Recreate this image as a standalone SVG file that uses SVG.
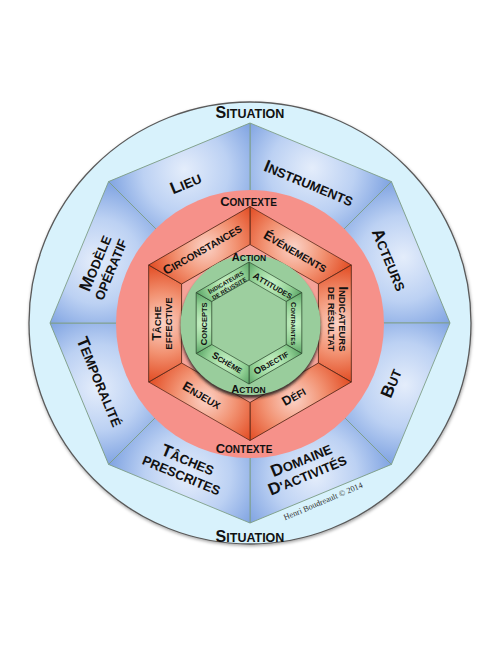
<svg xmlns="http://www.w3.org/2000/svg" width="500" height="647" viewBox="0 0 500 647">
<defs>
  <radialGradient id="gBlue" gradientUnits="userSpaceOnUse" cx="62" cy="-150" r="95" fx="62" fy="-155">
    <stop offset="0" stop-color="#e4edfb"/>
    <stop offset="0.45" stop-color="#bcd1f3"/>
    <stop offset="1" stop-color="#6690da"/>
  </radialGradient>
  <radialGradient id="gRed" gradientUnits="userSpaceOnUse" cx="44" cy="-76" r="60">
    <stop offset="0" stop-color="#fbd2c6"/>
    <stop offset="0.5" stop-color="#f29272"/>
    <stop offset="1" stop-color="#e24b22"/>
  </radialGradient>
  <radialGradient id="gGreen" gradientUnits="userSpaceOnUse" cx="23" cy="-40" r="34">
    <stop offset="0" stop-color="#c8f2c6"/>
    <stop offset="0.55" stop-color="#92d195"/>
    <stop offset="1" stop-color="#4c985a"/>
  </radialGradient>
  <filter id="shOuter" x="-10%" y="-10%" width="120%" height="120%">
    <feDropShadow dx="0.5" dy="1.5" stdDeviation="1.5" flood-color="#000" flood-opacity="0.35"/>
  </filter>
  <filter id="blur" x="-20%" y="-20%" width="140%" height="140%">
    <feGaussianBlur stdDeviation="1.6"/>
  </filter>
  <polygon id="segB" points="0,-200 141.42,-141.42 88.39,-88.39 0,-125"/>
  <polygon id="segR" points="0,-117 101.32,-58.5 68.42,-39.5 0,-79"/>
  <polygon id="segG" points="0,-61 52.83,-30.5 37.24,-21.5 0,-43"/>
</defs>
<style>
  .lbl { font-family: "Liberation Sans", Arial, sans-serif; font-weight: bold; fill: #111; text-anchor: middle; }
  .o { font-size: 13px; } .o .c { font-size: 17px; }
  .s { font-size: 12.5px; } .s .c { font-size: 16px; }
  .m { font-size: 10px; } .m .c { font-size: 13px; }
  .m2 { font-size: 9.5px; } .m2 .c { font-size: 12.5px; }
  .a { font-size: 8.5px; } .a .c { font-size: 11px; }
  .i { font-size: 7.5px; } .i .c { font-size: 9.5px; }
  .t { font-size: 5.8px; } .t .c { font-size: 7.5px; }
  .sb { fill: url(#gBlue); stroke: #7f9f88; stroke-width: 0.9; }
  .sr { fill: url(#gRed); stroke: #5a2a1a; stroke-width: 0.8; }
  .sg { fill: url(#gGreen); stroke: #2f4a30; stroke-width: 0.7; }
  .copy { font-family: "Liberation Serif", "Times New Roman", serif; font-size: 8.3px; fill: #333; text-anchor: middle; }
</style>

<g id="situation">
  <circle cx="250" cy="323" r="221" fill="#d8f2fc" stroke="#5a5a5a" stroke-width="1.3" filter="url(#shOuter)"/>
  <text class="lbl s" x="250" y="118"><tspan class="c">S</tspan>ITUATION</text>
  <text class="lbl s" x="250" y="541.5"><tspan class="c">S</tspan>ITUATION</text>
</g>

<g id="instruments">
  <use href="#segB" class="sb" transform="translate(250,323) rotate(0)"/>
  <text class="lbl o" transform="translate(308.5,184) rotate(22.5)" y="4.7"><tspan class="c">I</tspan>NSTRUMENTS</text>
</g>
<g id="acteurs">
  <use href="#segB" class="sb" transform="translate(250,323) rotate(45)"/>
  <text class="lbl o" transform="translate(388.5,260) rotate(67.5)" y="4.7"><tspan class="c">A</tspan>CTEURS</text>
</g>
<g id="but">
  <use href="#segB" class="sb" transform="translate(250,323) rotate(90)"/>
  <text class="lbl o" transform="translate(392,383.5) rotate(-67.5)" y="4.7"><tspan class="c">B</tspan>UT</text>
</g>
<g id="domaine">
  <use href="#segB" class="sb" transform="translate(250,323) rotate(135)"/>
  <text class="lbl o" transform="translate(304.5,468) rotate(-22.5)"><tspan x="0" y="-3.3"><tspan class="c">D</tspan>OMAINE</tspan><tspan x="0" y="12.7"><tspan class="c">D</tspan>'ACTIVITÉS</tspan></text>
</g>
<g id="taches">
  <use href="#segB" class="sb" transform="translate(250,323) rotate(180)"/>
  <text class="lbl o" transform="translate(184.5,468) rotate(22.5)"><tspan x="0" y="-3.3"><tspan class="c">T</tspan>ÂCHES</tspan><tspan x="0" y="12.7">PRESCRITES</tspan></text>
</g>
<g id="temporalite">
  <use href="#segB" class="sb" transform="translate(250,323) rotate(225)"/>
  <text class="lbl o" transform="translate(99,382) rotate(67.5)" y="4.7"><tspan class="c">T</tspan>EMPORALITÉ</text>
</g>
<g id="modele">
  <use href="#segB" class="sb" transform="translate(250,323) rotate(270)"/>
  <text class="lbl o" transform="translate(103.5,266.5) rotate(-67.5)"><tspan x="0" y="-3.3"><tspan class="c">M</tspan>ODÈLE</tspan><tspan x="0" y="12.7">OPÉRATIF</tspan></text>
</g>
<g id="lieu">
  <use href="#segB" class="sb" transform="translate(250,323) rotate(315)"/>
  <text class="lbl o" transform="translate(186,184) rotate(-22.5)" y="4.7"><tspan class="c">L</tspan>IEU</text>
</g>

<g id="contexte">
  <circle cx="250" cy="324" r="134" fill="#f6918a"/>
  <polygon points="250,244.5 318.4,284 318.4,363 250,402.5 181.6,363 181.6,284" fill="#f5a298"/>
  <text class="lbl m" x="248.5" y="206"><tspan class="c">C</tspan>ONTEXTE</text>
  <text class="lbl m" x="244" y="453"><tspan class="c">C</tspan>ONTEXTE</text>
</g>

<g id="evenements">
  <use href="#segR" class="sr" transform="translate(250,323.5) rotate(0)"/>
  <text class="lbl m" transform="translate(295,252) rotate(30)" y="3.6"><tspan class="c">É</tspan>VÉNEMENTS</text>
</g>
<g id="indicateurs-resultat">
  <use href="#segR" class="sr" transform="translate(250,323.5) rotate(60)"/>
  <text class="lbl m2" transform="translate(337,319) rotate(90)"><tspan x="0" y="-2.1"><tspan class="c">I</tspan>NDICATEURS</tspan><tspan x="0" y="8.9">DE RÉSULTAT</tspan></text>
</g>
<g id="defi">
  <use href="#segR" class="sr" transform="translate(250,323.5) rotate(120)"/>
  <text class="lbl m" transform="translate(294,397) rotate(-30)" y="3.6"><tspan class="c">D</tspan>ÉFI</text>
</g>
<g id="enjeux">
  <use href="#segR" class="sr" transform="translate(250,323.5) rotate(180)"/>
  <text class="lbl m" transform="translate(201.5,396) rotate(30)" y="3.6"><tspan class="c">E</tspan>NJEUX</text>
</g>
<g id="tache-effective">
  <use href="#segR" class="sr" transform="translate(250,323.5) rotate(240)"/>
  <text class="lbl m2" transform="translate(163,323.5) rotate(-90)"><tspan x="0" y="-2.1"><tspan class="c">T</tspan>ÂCHE</tspan><tspan x="0" y="8.9">EFFECTIVE</tspan></text>
</g>
<g id="circonstances">
  <use href="#segR" class="sr" transform="translate(250,323.5) rotate(300)"/>
  <text class="lbl m" transform="translate(202.5,250) rotate(-30)" y="3.6"><tspan class="c">C</tspan>IRCONSTANCES</text>
</g>

<g id="action">
  <circle cx="250.5" cy="328" r="70" fill="#1a1a1a" opacity="0.85" filter="url(#blur)"/>
  <circle cx="250.5" cy="325" r="70" fill="#99cd9c"/>
  <polygon points="249,280 286.2,301.5 286.2,344.5 249,366 211.8,344.5 211.8,301.5" fill="#9dcf9f"/>
  <text class="lbl a" x="249" y="261"><tspan class="c">A</tspan>CTION</text>
  <text class="lbl a" x="248.5" y="393"><tspan class="c">A</tspan>CTION</text>
</g>

<g id="attitudes">
  <use href="#segG" class="sg" transform="translate(249,323) rotate(0)"/>
  <text class="lbl i" transform="translate(272.5,286) rotate(30)" y="2.7"><tspan class="c">A</tspan>TTITUDES</text>
</g>
<g id="contraintes">
  <use href="#segG" class="sg" transform="translate(249,323) rotate(60)"/>
  <text class="lbl t" transform="translate(293.5,323.5) rotate(90)" y="2.1"><tspan class="c">C</tspan>ONTRAINTES</text>
</g>
<g id="objectif">
  <use href="#segG" class="sg" transform="translate(249,323) rotate(120)"/>
  <text class="lbl i" transform="translate(271.5,363) rotate(-30)" y="2.7"><tspan class="c">O</tspan>BJECTIF</text>
</g>
<g id="scheme">
  <use href="#segG" class="sg" transform="translate(249,323) rotate(180)"/>
  <text class="lbl i" transform="translate(227,363) rotate(30)" y="2.7"><tspan class="c">S</tspan>CHÈME</text>
</g>
<g id="concepts">
  <use href="#segG" class="sg" transform="translate(249,323) rotate(240)"/>
  <text class="lbl i" transform="translate(204,324) rotate(-90)" y="2.7"><tspan class="c">C</tspan>ONCEPTS</text>
</g>
<g id="indicateurs-reussite">
  <use href="#segG" class="sg" transform="translate(249,323) rotate(300)"/>
  <text class="lbl t" transform="translate(227.5,285.5) rotate(-30)"><tspan x="0" y="-1.4"><tspan class="c">I</tspan>NDICATEURS</tspan><tspan x="0" y="5.6">DE RÉUSSITE</tspan></text>
</g>

<text class="copy" transform="translate(323,501) rotate(-23)" y="3">Henri Boudreault © 2014</text>
</svg>
